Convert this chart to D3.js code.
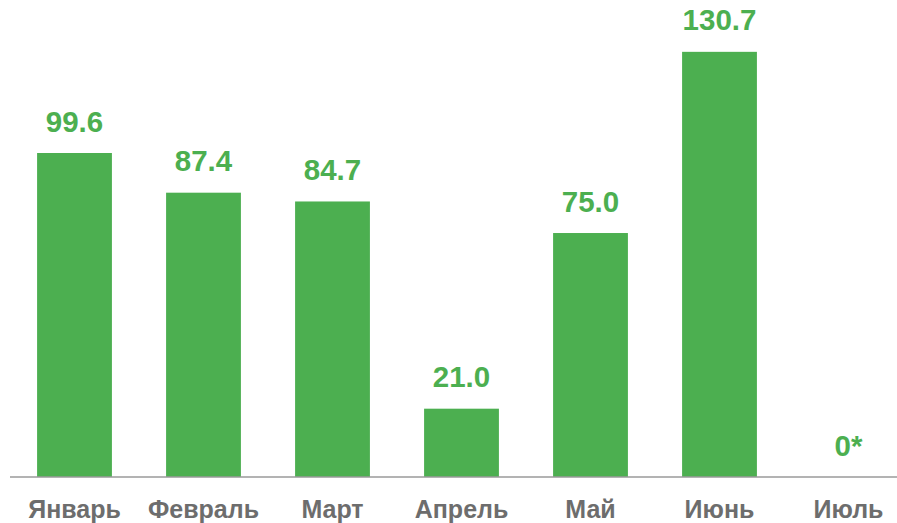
<!DOCTYPE html>
<html>
<head>
<meta charset="utf-8">
<script src="https://cdn.jsdelivr.net/npm/d3@7"></script>
<style>
  body { margin: 0; background: #fff; }
  svg { display: block; font-family: "Liberation Sans", Arial, sans-serif; }
</style>
</head>
<body>
<div id="chart"></div>
<script>
var months = ["Январь", "Февраль", "Март", "Апрель", "Май", "Июнь", "Июль"];
var values = [99.6, 87.4, 84.7, 21.0, 75.0, 130.7, 0];
var labels = ["99.6", "87.4", "84.7", "21.0", "75.0", "130.7", "0*"];

var width = 897,
height = 523;
var baseY = 477;
var green = "#4caf50";

var svg = d3.select("#chart").append("svg")
.attr("width", width)
.attr("height", height);

var x = d3.scaleBand()
.domain(months)
.range([10, 913])
.paddingInner(0.42)
.paddingOuter(0.21);

// 99.6 -> ~324px tall
var y = d3.scaleLinear()
.domain([0, 140])
.range([baseY, baseY - 140 * 3.253]);

svg.selectAll("rect.bar")
.data(values)
.enter()
.append("rect")
.attr("class", "bar")
.attr("x", function(d, i) { return x(months[i]); })
.attr("y", function(d) { return y(d); })
.attr("width", x.bandwidth())
.attr("height", function(d) { return baseY - y(d); })
.style("fill", green);

svg.selectAll("text.val")
.data(values)
.enter()
.append("text")
.attr("class", "val")
.attr("x", function(d, i) { return x(months[i]) + x.bandwidth() / 2; })
.attr("y", function(d) { return y(d) - 21.5; })
.attr("text-anchor", "middle")
.style("font-size", "29.5px")
.style("font-weight", "bold")
.style("fill", green)
.text(function(d, i) { return labels[i]; });

//baseline
svg.append("line")
.attr("x1", 10)
.attr("x2", width)
.attr("y1", baseY)
.attr("y2", baseY)
.style("stroke", "#9a9a9a")
.style("stroke-width", 1.5);

var xAxis = d3.axisBottom(x).tickSize(0).tickPadding(0);
var gx = svg.append("g")
.attr("transform", "translate(0," + baseY + ")")
.call(xAxis);
gx.select(".domain").remove();
gx.selectAll("text")
.attr("y", 41)
.attr("dy", null)
.style("font-family", "\"Liberation Sans\", Arial, sans-serif")
.style("font-size", "25px")
.style("font-weight", "bold")
.style("fill", "#6d6d6d");
</script>
</body>
</html>
